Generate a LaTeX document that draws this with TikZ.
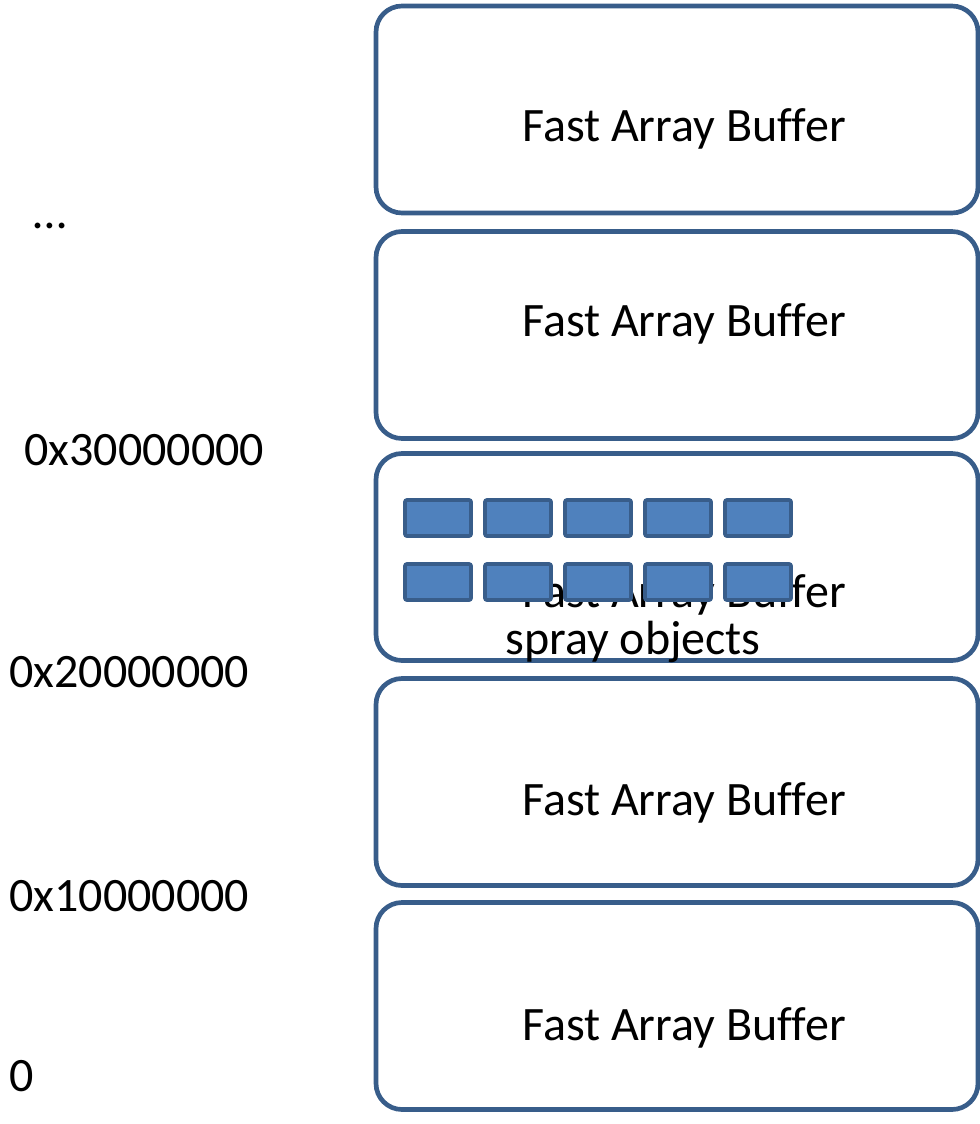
\documentclass[tikz,border=0pt]{standalone}
\usepackage{fontspec}
\setmainfont[Ligatures=NoCommon]{Carlito}
\definecolor{rimblue}{HTML}{385D8A}
\definecolor{fillblue}{HTML}{4F81BD}
\tikzset{
  bufbox/.style={draw=rimblue, line width=3.5pt, fill=white, rounded corners=19.5pt,
    minimum width=451.5pt, minimum height=155.25pt, inner sep=0pt, outer sep=0pt},
  objbox/.style={draw=rimblue, line width=2.8pt, fill=fillblue, rounded corners=1.5pt,
    minimum width=49.5pt, minimum height=27pt, inner sep=0pt, outer sep=0pt},
  lbl/.style={inner sep=0pt, font=\fontsize{36}{43}\selectfont},
}
\begin{document}
\begin{tikzpicture}[x=0.75pt, y=-0.75pt]
\useasboundingbox (0,0) rectangle (980,1124);

% address-space blocks
\node[bufbox] (b1) at (677,109.5) {};
\node[bufbox] (b2) at (677,335) {};
\node[bufbox] (b3) at (677,557) {};
\node[bufbox] (b4) at (677,782) {};
\node[bufbox] (b5) at (677,1006) {};

\node[lbl, anchor=base] (t1) at (684,141) {Fast Array Buffer};
\node[lbl, anchor=base] (t2) at (684,336) {Fast Array Buffer};
\node[lbl, anchor=base] (t3) at (684,607) {Fast Array Buffer};
\node[lbl, anchor=base] (t4) at (684,815) {Fast Array Buffer};
\node[lbl, anchor=base] (t5) at (684,1040) {Fast Array Buffer};

% sprayed objects, two rows of five
\foreach \i/\x in {1/438,2/518,3/598,4/678,5/758}{
  \node[objbox] (oa\i) at (\x,518) {};
  \node[objbox] (ob\i) at (\x,582) {};
}
\node[lbl, anchor=base] (spray) at (633,654) {spray objects};

% address labels
\node[lbl, anchor=base west] (dots) at (33,228) {…};
\node[lbl, anchor=base west] (a3) at (24,465) {0x30000000};
\node[lbl, anchor=base west] (a2) at (9,687) {0x20000000};
\node[lbl, anchor=base west] (a1) at (9,911) {0x10000000};
\node[lbl, anchor=base west] (a0) at (9,1091) {0};
\end{tikzpicture}
\end{document}
